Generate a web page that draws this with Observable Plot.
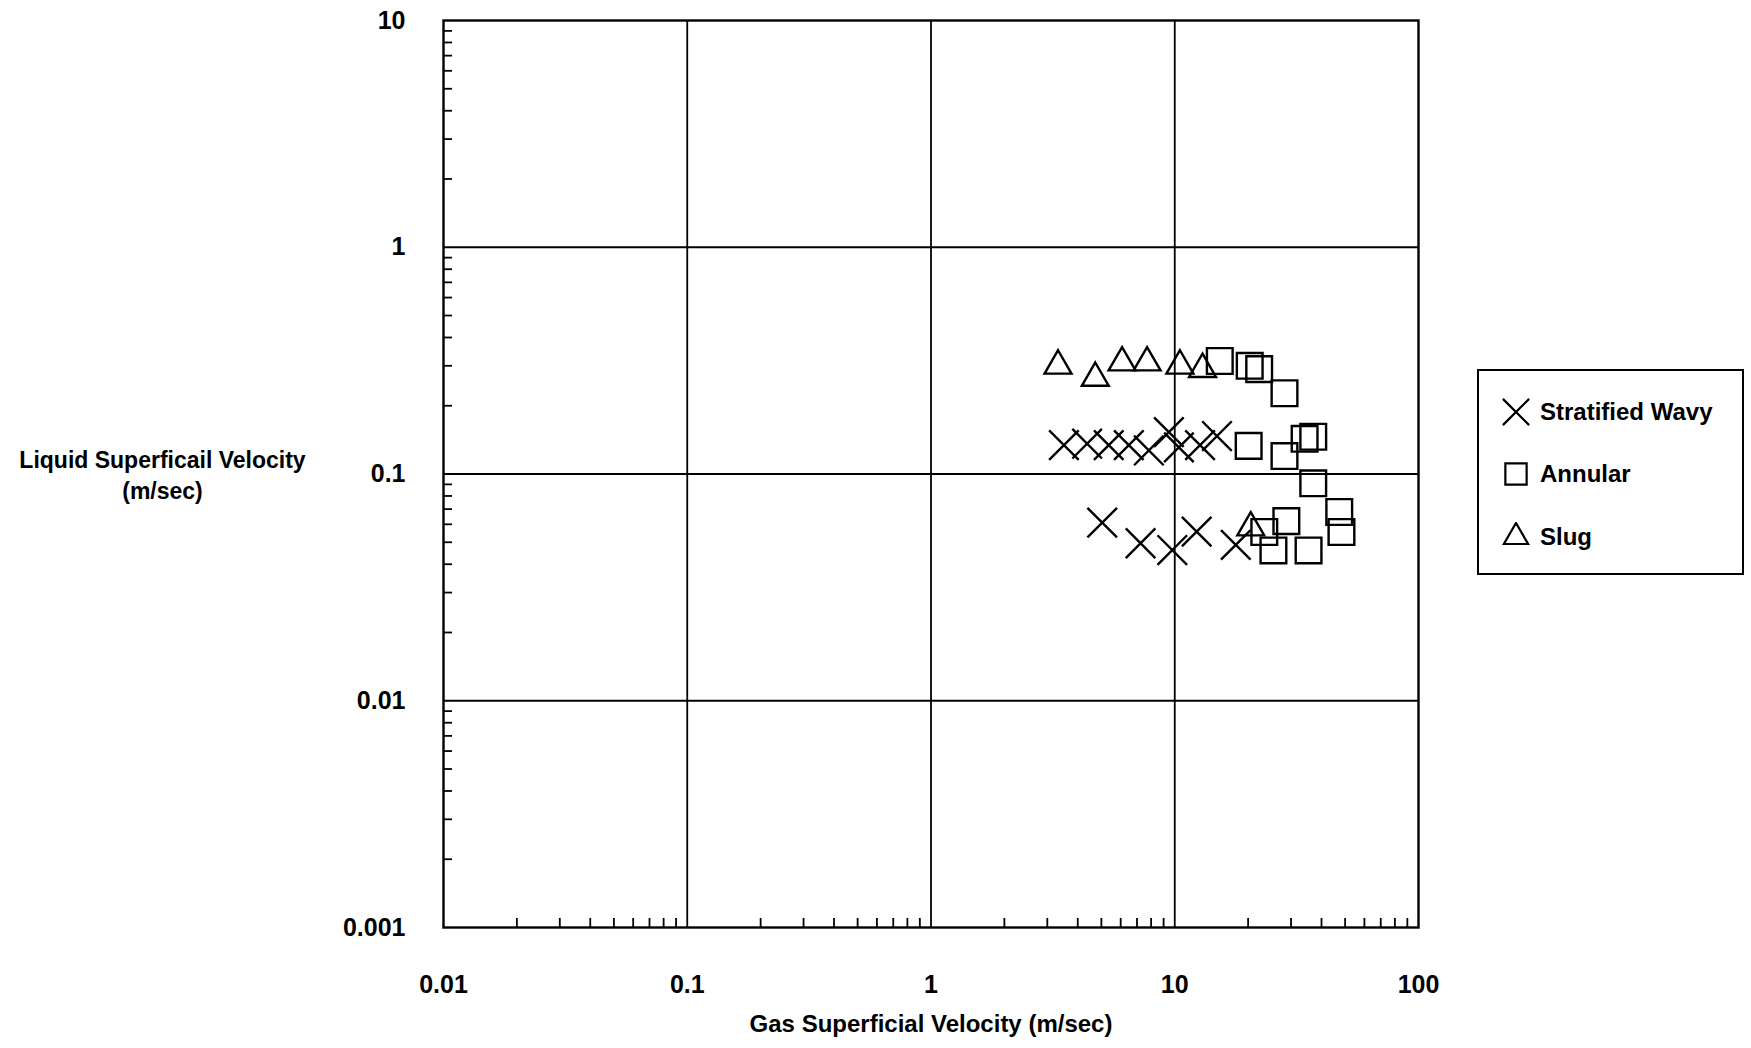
<!DOCTYPE html>
<html><head><meta charset="utf-8">
<script src="https://cdn.jsdelivr.net/npm/d3@7"></script>
<script src="https://cdn.jsdelivr.net/npm/@observablehq/plot@0.6"></script>
<style>
body{margin:0;background:#fff;}
#wrap{position:relative;width:1751px;height:1048px;font-family:"Liberation Sans",Arial,sans-serif;color:#000;}
#legend{position:absolute;left:1477px;top:369px;width:267px;height:206px;border:2px solid #000;box-sizing:border-box;background:#fff;}
.row{position:absolute;left:0;display:flex;align-items:center;font-size:24px;font-weight:bold;white-space:nowrap;}
.row svg{margin-left:22px;margin-right:9px;}
</style></head><body><div id="wrap"></div>
<script>
const seriesNames = ["Stratified Wavy", "Annular", "Slug"];
const stratX = [3.51, 4.37, 5.36, 6.48, 7.83, 9.46, 10.4, 12.7, 14.9, 5.04, 7.24, 9.77, 12.3, 17.8];
const stratY = [0.134, 0.136, 0.134, 0.134, 0.127, 0.153, 0.131, 0.134, 0.147, 0.061, 0.0495, 0.0462, 0.0557, 0.0487];
const annX = [15.3, 20.3, 22.2, 28.2, 20.1, 28.2, 34.1, 37.0, 37.0, 28.7, 23.3, 25.4, 35.4, 47.3, 48.3];
const annY = [0.315, 0.30, 0.29, 0.227, 0.133, 0.12, 0.143, 0.146, 0.091, 0.062, 0.0555, 0.046, 0.046, 0.068, 0.0555];
const slugX = [3.32, 4.72, 6.08, 7.70, 10.5, 13.0, 20.5];
const slugY = [0.30, 0.265, 0.31, 0.31, 0.30, 0.29, 0.058];
const xTicks = [0.01, 0.1, 1, 10, 100];
const yTicks = [0.001, 0.01, 0.1, 1, 10];
const xLabel = "Gas Superficial Velocity (m/sec)";
const yLabel = "Liquid Superficail Velocity\n(m/sec)";

const zip = (xs, ys) => xs.map((x, i) => ({x, y: ys[i]}));
const minorOf = ticks => ticks.slice(0, -1).flatMap(t => d3.range(2, 10).map(k => +(t * k).toPrecision(3)));
const minorX = minorOf(xTicks), minorY = minorOf(yTicks);

const W = 1751, H = 1048;
const mL = 443, mR = W - 1418, mT = 20, mB = H - 927;
const pw = W - mL - mR, ph = H - mT - mB;
const font = '"Liberation Sans", Arial, sans-serif';
const sw = 2.4;

const plot = Plot.plot({
  width: W, height: H,
  marginLeft: mL, marginRight: mR, marginTop: mT, marginBottom: mB,
  style: {fontFamily: font, fontSize: "25px", fontWeight: "bold", color: "#000", background: "#fff", overflow: "visible"},
  x: {type: "log", domain: [0.01, 100]},
  y: {type: "log", domain: [0.001, 10]},
  marks: [
    Plot.ruleX(xTicks.slice(1, -1), {stroke: "#000", strokeWidth: 1.8}),
    Plot.ruleY(yTicks.slice(1, -1), {stroke: "#000", strokeWidth: 1.8}),
    Plot.tickX(minorX, {x: d => d, insetTop: ph - 9, stroke: "#000", strokeWidth: 1.8}),
    Plot.tickY(minorY, {y: d => d, insetRight: pw - 9, stroke: "#000", strokeWidth: 1.8}),
    Plot.frame({stroke: "#000", strokeWidth: 2.4}),
    Plot.axisX(xTicks, {tickSize: 0, tickPadding: 48, tickFormat: d => String(d), label: null, fontSize: 25}),
    Plot.axisY(yTicks, {tickSize: 0, tickPadding: 38, tickFormat: d => String(d), label: null, fontSize: 25}),
    Plot.text([xLabel], {text: d => d, frameAnchor: "bottom", dy: 97, lineAnchor: "middle", fontSize: 24, fill: "#000"}),
    Plot.text([yLabel], {text: d => d, frameAnchor: "left", dx: 162 - mL, dy: 0, textAnchor: "middle", lineAnchor: "middle", lineHeight: 1.35, fontSize: 23, fill: "#000"}),
    Plot.dot(zip(slugX, slugY), {x: "x", y: "y", symbol: "triangle", r: 10, stroke: "#000", strokeWidth: sw, fill: "none"}),
    Plot.dot(zip(annX, annY), {x: "x", y: "y", symbol: "square", r: 14.5, stroke: "#000", strokeWidth: sw, fill: "none"}),
    Plot.dot(zip(stratX, stratY), {x: "x", y: "y", symbol: "times", r: 13.5, stroke: "#000", strokeWidth: sw, fill: "none"})
  ]
});

const wrap = document.getElementById("wrap");
wrap.appendChild(plot);

// legend
const legend = document.createElement("div");
legend.id = "legend";
wrap.appendChild(legend);
const legSymbols = [d3.symbolTimes, d3.symbolSquare, d3.symbolTriangle];
const legSizes = [12, 12, 9];
const rowTops = [41, 103, 166];
seriesNames.forEach((name, i) => {
  const row = document.createElement("div");
  row.className = "row";
  row.style.top = (rowTops[i] - 16) + "px";
  row.style.height = "32px";
  const r = legSizes[i];
  const svg = d3.create("svg").attr("width", 30).attr("height", 30);
  svg.append("path")
    .attr("transform", "translate(15,15)")
    .attr("d", d3.symbol(legSymbols[i], Math.PI * r * r)())
    .attr("fill", "none").attr("stroke", "#000").attr("stroke-width", 2.2);
  row.appendChild(svg.node());
  const span = document.createElement("span");
  span.textContent = name;
  row.appendChild(span);
  legend.appendChild(row);
});
</script>
</body></html>
